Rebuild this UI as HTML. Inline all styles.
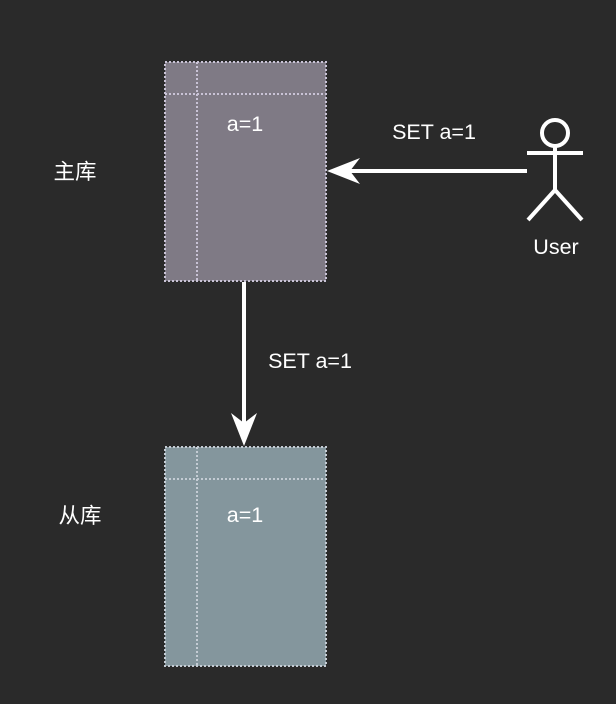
<!DOCTYPE html>
<html><head><meta charset="utf-8"><style>
body{margin:0;background:#2a2a2a;}
svg{display:block;font-family:"Liberation Sans","Noto Sans CJK SC",sans-serif;}
</style></head><body>
<svg width="616" height="704" viewBox="0 0 616 704">
<rect width="616" height="704" fill="#2a2a2a"/>
<g stroke="#c9c3d6" stroke-width="2" stroke-dasharray="2 2" fill="none">
<rect x="165" y="62" width="161" height="219" fill="#7f7a85"/>
<line x1="197" y1="62" x2="197" y2="281"/>
<line x1="165" y1="94" x2="326" y2="94"/>
</g>
<g stroke="#c4ccd4" stroke-width="2" stroke-dasharray="2 2" fill="none">
<rect x="165" y="447" width="161" height="219" fill="#84969d"/>
<line x1="197" y1="447" x2="197" y2="666"/>
<line x1="165" y1="479" x2="326" y2="479"/>
</g>
<g fill="#fff" font-size="21.5">
<text x="245" y="131" text-anchor="middle">a=1</text>
<text x="245" y="522" text-anchor="middle">a=1</text>
<text x="75" y="179" text-anchor="middle">主库</text>
<text x="80" y="523" text-anchor="middle">从库</text>
<text x="434" y="139" text-anchor="middle">SET a=1</text>
<text x="310" y="368" text-anchor="middle">SET a=1</text>
<text x="556" y="254" text-anchor="middle">User</text>
</g>
<g stroke="#fff" stroke-width="4" fill="none">
<line x1="527" y1="171" x2="345" y2="171"/>
<line x1="244" y1="282" x2="244" y2="428"/>
<circle cx="555" cy="133" r="13"/>
<line x1="527" y1="153" x2="583" y2="153"/>
<line x1="555" y1="146" x2="555" y2="190"/>
<line x1="555" y1="190" x2="528" y2="220"/>
<line x1="555" y1="190" x2="582" y2="220"/>
</g>
<polygon points="327,171 360,158 350,171 360,184" fill="#fff"/>
<polygon points="244,446 231,413 244,423 257,413" fill="#fff"/>
</svg>
</body></html>
